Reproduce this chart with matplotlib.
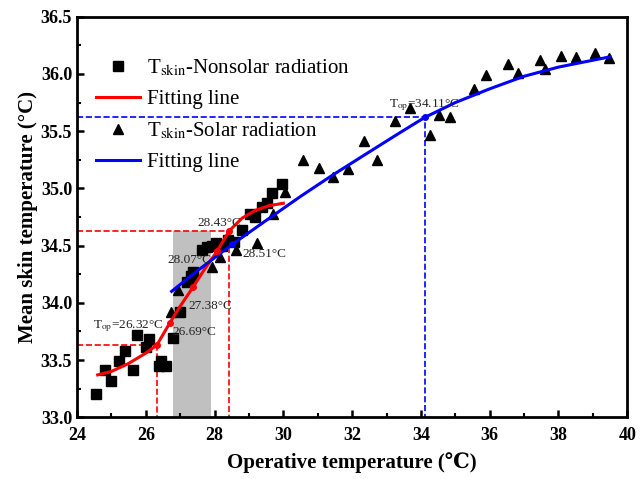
import matplotlib
matplotlib.use('Agg')
import matplotlib.pyplot as plt
from matplotlib.ticker import MultipleLocator

plt.rcParams['font.family'] = ['Liberation Serif', 'DejaVu Serif']
plt.rcParams['mathtext.fontset'] = 'stix'

# Tskin - nonsolar radiation (squares)
ns_x = [24.54, 24.82, 25.00, 25.22, 25.39, 25.62, 25.74, 26.00, 26.09, 26.37, 26.44, 26.59,
        26.79, 27.00, 27.19, 27.31, 27.38, 27.63, 27.77, 27.92, 28.05, 28.21, 28.40, 28.55,
        28.79, 29.03, 29.18, 29.37, 29.52, 29.66, 29.95]
ns_y = [33.20, 33.41, 33.32, 33.49, 33.58, 33.41, 33.72, 33.61, 33.68, 33.45, 33.49, 33.45,
        33.69, 33.92, 34.18, 34.23, 34.27, 34.46, 34.49, 34.50, 34.52, 34.50, 34.55, 34.53,
        34.64, 34.78, 34.75, 34.84, 34.87, 34.96, 35.04]

# Tskin - solar radiation (triangles)
so_x = [26.73, 26.95, 27.30, 27.92, 28.16, 28.62, 29.23, 29.71, 30.05, 30.58, 31.05, 31.44,
        31.89, 32.35, 32.72, 33.25, 33.67, 34.25, 34.54, 34.85, 35.55, 35.90, 36.52, 36.82,
        37.45, 37.60, 38.08, 38.52, 39.05, 39.48]
so_y = [33.92, 34.11, 34.22, 34.31, 34.40, 34.46, 34.52, 34.78, 34.97, 35.25, 35.18, 35.10,
        35.17, 35.41, 35.25, 35.59, 35.70, 35.47, 35.64, 35.62, 35.87, 35.99, 36.09, 36.01,
        36.12, 36.04, 36.16, 36.15, 36.18, 36.14]

# fitting lines
fit_ns_x = [24.6, 25.0, 25.5, 26.0, 26.32, 26.69, 27.0, 27.38, 27.7, 28.07, 28.43, 28.8, 29.2, 29.6, 30.0]
fit_ns_y = [33.37, 33.40, 33.47, 33.56, 33.63, 33.82, 33.97, 34.14, 34.29, 34.45, 34.63, 34.74, 34.81, 34.85, 34.87]
fit_so_x = [26.75, 27.5, 28.51, 29.5, 30.5, 31.4, 32.4, 33.3, 34.11, 35.0, 36.0, 37.0, 38.0, 39.0, 39.5]
fit_so_y = [34.10, 34.28, 34.51, 34.72, 34.93, 35.11, 35.30, 35.47, 35.62, 35.75, 35.87, 35.98, 36.06, 36.12, 36.15]

# marked points on fitting lines
ns_mark_x = [26.32, 26.69, 27.38, 28.07, 28.43]
ns_mark_y = [33.63, 33.82, 34.14, 34.45, 34.63]
so_mark_x = [28.51, 34.11]
so_mark_y = [34.51, 35.62]

fig = plt.figure(figsize=(6.42, 4.79), dpi=100)
ax = fig.add_axes([0.12, 0.129, 0.857, 0.836])

ax.axvspan(26.8, 27.9, ymin=0, ymax=(34.63 - 33.0) / 3.5, color='#c0c0c0', zorder=0, lw=0)

# reference dashed lines
ax.plot([24, 26.32, 26.32], [33.63, 33.63, 33.0], 'r--', lw=1.2, zorder=1)
ax.plot([24, 28.43, 28.43], [34.63, 34.63, 33.0], 'r--', lw=1.2, zorder=1)
ax.plot([24, 34.11, 34.11], [35.62, 35.62, 33.0], color='blue', ls='--', lw=1.2, zorder=1)

ax.plot(ns_x, ns_y, 's', color='black', ms=6.5, ls='none', zorder=2,
        label=r'T$_{\mathrm{skin}}$-Nonsolar radiation')
ax.plot(fit_ns_x, fit_ns_y, color='red', lw=2.2, zorder=3, label='Fitting line')
ax.plot(so_x, so_y, '^', color='black', ms=7.5, ls='none', zorder=2,
        label=r'T$_{\mathrm{skin}}$-Solar radiation')
ax.plot(fit_so_x, fit_so_y, color='blue', lw=2.2, zorder=3, label='Fitting line')

ax.plot(ns_mark_x, ns_mark_y, 'o', color='red', ms=4, zorder=4)
ax.plot(so_mark_x, so_mark_y, 'o', color='blue', ms=4, zorder=4)

tc = '#222222'
fs = 9.5
ax.text(24.47, 33.78, r'T$_{\mathrm{op}}$=26.32°C', fontsize=fs, color=tc)
ax.text(26.78, 33.72, '26.69°C', fontsize=fs, color=tc)
ax.text(27.25, 33.95, '27.38°C', fontsize=fs, color=tc)
ax.text(26.62, 34.35, '28.07°C', fontsize=fs, color=tc)
ax.text(27.5, 34.67, '28.43°C', fontsize=fs, color=tc)
ax.text(28.8, 34.40, '28.51°C', fontsize=fs, color=tc)
ax.text(33.08, 35.71, r'T$_{\mathrm{op}}$=34.11°C', fontsize=fs, color=tc)

ax.set_xlim(24, 40)
ax.set_ylim(33.0, 36.5)
ax.xaxis.set_major_locator(MultipleLocator(2))
ax.xaxis.set_minor_locator(MultipleLocator(1))
ax.yaxis.set_major_locator(MultipleLocator(0.5))
ax.yaxis.set_minor_locator(MultipleLocator(0.25))
ax.yaxis.set_major_formatter(matplotlib.ticker.FormatStrFormatter('%.1f'))
ax.tick_params(which='major', direction='in', length=5, width=1.8, labelsize=13)
ax.tick_params(axis='x', which='major', pad=7)
ax.tick_params(which='minor', direction='in', length=3, width=1.5)
for lab in ax.get_xticklabels() + ax.get_yticklabels():
    lab.set_fontweight('bold')
for s in ax.spines.values():
    s.set_linewidth(2)

ax.set_xlabel('Operative temperature (℃)', fontsize=15, fontweight='bold', labelpad=6)
ax.set_ylabel('Mean skin temperature (°C)', fontsize=15, fontweight='bold', labelpad=2)

ax.legend(loc='upper left', frameon=False, fontsize=15, handlelength=2.1,
          handletextpad=0.35, labelspacing=0.55, bbox_to_anchor=(0.0, 0.945))

fig.savefig('out.png', dpi=100)
